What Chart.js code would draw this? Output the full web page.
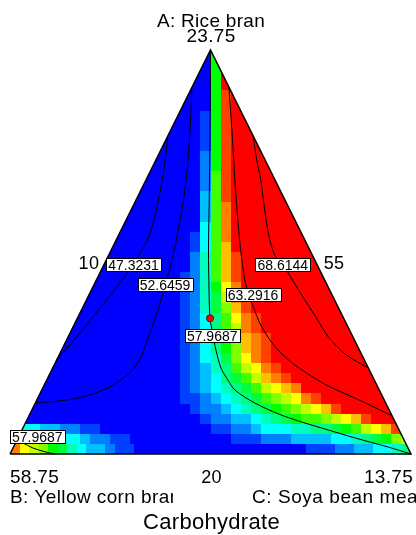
<!DOCTYPE html>
<html><head><meta charset="utf-8">
<script src="https://cdn.jsdelivr.net/npm/chart.js@4/dist/chart.umd.min.js"></script>
<style>html,body{margin:0;padding:0;background:#fff;overflow:hidden}canvas{display:block}</style>
</head><body>
<canvas id="c" width="416" height="535" style="width:416px;height:535px"></canvas>
<script>
// Heatmap cell levels (0 = blue ... G = red), one string per grid row from top to bottom, 40 columns
const cellLevels = [
"000000000000000000008GGGGGGGGGGGGGGGGGGG",
"000000000000000000008GGGGGGGGGGGGGGGGGGG",
"000000000000000000008GGGGGGGGGGGGGGGGGGG",
"000000000000000000008GGGGGGGGGGGGGGGGGGG",
"000000000000000000008FGGGGGGGGGGGGGGGGGG",
"000000000000000000008FGGGGGGGGGGGGGGGGGG",
"000000000000000000018FGGGGGGGGGGGGGGGGGG",
"000000000000000000018FGGGGGGGGGGGGGGGGGG",
"000000000000000000018FGGGGGGGGGGGGGGGGGG",
"000000000000000000018FGGGGGGGGGGGGGGGGGG",
"000000000000000000028FGGGGGGGGGGGGGGGGGG",
"000000000000000000028FGGGGGGGGGGGGGGGGGG",
"000000000000000000029FGGGGGGGGGGGGGGGGGG",
"000000000000000000029FGGGGGGGGGGGGGGGGGG",
"000000000000000000039FGGGGGGGGGGGGGGGGGG",
"000000000000000000039EGGGGGGGGGGGGGGGGGG",
"000000000000000000039EGGGGGGGGGGGGGGGGGG",
"000000000000000000049EGGGGGGGGGGGGGGGGGG",
"000000000000000000149EGGGGGGGGGGGGGGGGGG",
"000000000000000000149DGGGGGGGGGGGGGGGGGG",
"000000000000000000259DFGGGGGGGGGGGGGGGGG",
"000000000000000000259DFGGGGGGGGGGGGGGGGG",
"000000000000000001259DFGGGGGGGGGGGGGGGGG",
"000000000000000001258CEGGGGGGGGGGGGGGGGG",
"000000000000000001257BEFGGGGGGGGGGGGGGGG",
"000000000000000001257ADFGGGGGGGGGGGGGGGG",
"0000000000000000012469CEFGGGGGGGGGGGGGGG",
"0000000000000000012469BEFGGGGGGGGGGGGGGG",
"0000000000000000012458ADEFGGGGGGGGGGGGGG",
"0000000000000000012468ADEFGGGGGGGGGGGGGG",
"0000000000000000012457ACEFGGGGGGGGGGGGGG",
"00000000000000000123569BCEFGGGGGGGGGGGGG",
"000000000000000001234679BDEFGGGGGGGGGGGG",
"0000000000000000012345679BCDEGGGGGGGGGGG",
"00000000000000000112345679ABCEFGGGGGGGGG",
"0000000000000000001223456789ABCDFGGGGGGG",
"0000000000000000000122334567899ABCDFGGGG",
"04433221100000000000112234445566789BCDFG",
"86544443221100000000001112223333445678AB",
"ECBA875433211000000000000000000111223344 56".replace(' ','')
];
const levelChars = "0123456789ABCDEFG";

// Triangle outline (chart units)
const triangleX = [0, 0.5, 1, 0];
const triangleY = [0, 1, 0, 0];

// Contour lines (chart units)
const c47X = [0.3935,0.3871,0.3797,0.3648,0.3449,0.3077,0.2605,0.2109,0.1638,0.1166];
const c47Y = [0.7847,0.7277,0.6782,0.6040,0.5347,0.4703,0.4059,0.3441,0.2871,0.2327];
const c52X = [0.4535,0.4491,0.4392,0.4243,0.4069,0.3871,0.3648,0.3424,0.3226,0.2928,0.2481,0.1985,0.1414,0.0631];
const c52Y = [0.9059,0.8020,0.6782,0.5792,0.4926,0.4183,0.3441,0.2822,0.2327,0.1955,0.1658,0.1460,0.1337,0.1262];
const c57X = [0.5,0.4993,0.4983,0.4968,0.4950,0.4963,0.4988,0.5062,0.5136,0.5261,0.5434,0.5608,0.6104,0.6700,0.7196,0.7767,0.8610,0.9429,1.0];
const c57Y = [1.0,0.8762,0.7525,0.6287,0.5050,0.4059,0.3366,0.2946,0.2574,0.2129,0.1832,0.1584,0.1262,0.0990,0.0817,0.0644,0.0396,0.0173,0];
const c57bX = [0.0174,0.0372,0.0571,0.0844,0.1117];
const c57bY = [0.0347,0.0248,0.0149,0.0062,0];
const c63X = [0.5458,0.5533,0.5608,0.5682,0.5757,0.5856,0.5955,0.6079,0.6253,0.6576,0.6948,0.7320,0.7841,0.8313,0.8759,0.9530];
const c63Y = [0.9084,0.8020,0.6782,0.5792,0.5000,0.4307,0.3936,0.3614,0.3193,0.2698,0.2327,0.2054,0.1733,0.1510,0.1312,0.0941];
const c68X = [0.6064,0.6154,0.6253,0.6352,0.6452,0.6600,0.6799,0.7072,0.7320,0.7643,0.7940,0.8387,0.8936];
const c68Y = [0.7871,0.7277,0.6782,0.6040,0.5421,0.4926,0.4703,0.4257,0.3861,0.3366,0.2896,0.2450,0.2129];

// Contour labels
const labelText = ["47.3231","52.6459","68.6144","63.2916","57.9687","57.9687"];
const labelX = [0.3082,0.3866,0.6804,0.6060,0.5042,0.0682];
const labelY = [0.4698,0.4186,0.4698,0.3948,0.2936,0.0438];

// Design point
const pointX = [0.4988];
const pointY = [0.3359];

// Axis texts
const vertexA = ["A: Rice bran", "23.75"];
const vertexB = ["B: Yellow corn bran", "58.75"];
const vertexC = ["C: Soya bean meal", "13.75"];
const edgeLabels = ["10", "55", "20"];
const axisTitle = "Carbohydrate";

const FONT = '"Liberation Sans", Arial, Helvetica, sans-serif';
const zip = (xs, ys) => xs.map((v, i) => ({x: v, y: ys[i]}));

function triPath(ctx, xs, ys) {
  ctx.beginPath();
  for (let i = 0; i < triangleX.length; i++) {
    const px = xs.getPixelForValue(triangleX[i]), py = ys.getPixelForValue(triangleY[i]);
    if (i === 0) ctx.moveTo(px, py); else ctx.lineTo(px, py);
  }
  ctx.closePath();
}

const heatmapPlugin = {
  id: 'heatmap',
  beforeDatasetsDraw(chart) {
    const ctx = chart.ctx, xs = chart.scales.x, ys = chart.scales.y;
    const nR = cellLevels.length;
    ctx.save();
    triPath(ctx, xs, ys);
    ctx.clip();
    for (let r = 0; r < nR; r++) {
      const row = cellLevels[r];
      const nC = row.length;
      const y0 = Math.round(ys.getPixelForValue(1 - r / nR));
      const y1 = Math.round(ys.getPixelForValue(1 - (r + 1) / nR));
      for (let k = 0; k < nC; k++) {
        const lv = levelChars.indexOf(row[k]);
        const x0 = Math.round(xs.getPixelForValue(k / nC));
        const x1 = Math.round(xs.getPixelForValue((k + 1) / nC));
        ctx.fillStyle = 'hsl(' + (240 - 15 * lv) + ',100%,50%)';
        ctx.fillRect(x0, y0, x1 - x0, y1 - y0);
      }
    }
    ctx.restore();
  }
};

const textPlugin = {
  id: 'texts',
  afterDatasetsDraw(chart) {
    const ctx = chart.ctx, xs = chart.scales.x, ys = chart.scales.y;
    ctx.save();
    // contour labels
    ctx.font = '14px ' + FONT;
    for (let i = 0; i < labelText.length; i++) {
      const cx = xs.getPixelForValue(labelX[i]), cy = ys.getPixelForValue(labelY[i]);
      const w = Math.round(ctx.measureText(labelText[i]).width + 4), h = 13;
      const bx = Math.round(cx - w / 2) + 0.5, by = Math.round(cy - h / 2) + 0.5;
      ctx.fillStyle = '#fff';
      ctx.fillRect(bx, by, w, h);
      ctx.strokeStyle = '#000'; ctx.lineWidth = 1;
      ctx.strokeRect(bx, by, w, h);
      ctx.fillStyle = '#000'; ctx.textAlign = 'center'; ctx.textBaseline = 'alphabetic';
      ctx.fillText(labelText[i], cx, by + h - 1.5);
    }
    const top = ys.getPixelForValue(1), base = ys.getPixelForValue(0);
    const left = xs.getPixelForValue(0), right = xs.getPixelForValue(1), mid = xs.getPixelForValue(0.5);
    ctx.fillStyle = '#000';
    ctx.textBaseline = 'alphabetic';
    ctx.font = '19px ' + FONT;
    ctx.textAlign = 'center';
    ctx.letterSpacing = '0.3px';
    ctx.fillText(vertexA[0], mid + 0.5, top - 23);
    ctx.fillText(vertexA[1], mid + 0.5, top - 8);
    ctx.font = '18px ' + FONT;
    const ey = ys.getPixelForValue(0.475);
    ctx.textAlign = 'right';
    ctx.fillText(edgeLabels[0], xs.getPixelForValue(0.2375) - 6, ey + 7);
    ctx.textAlign = 'left';
    ctx.fillText(edgeLabels[1], xs.getPixelForValue(0.7625) + 8, ey + 7);
    ctx.textAlign = 'center';
    ctx.fillText(edgeLabels[2], mid + 1, base + 29);
    ctx.font = '19px ' + FONT;
    ctx.textAlign = 'left';
    ctx.fillText(vertexB[1], left, base + 29);
    ctx.textAlign = 'right';
    ctx.fillText(vertexC[1], right + 2, base + 29);
    ctx.textAlign = 'left';
    ctx.letterSpacing = '0.4px';
    ctx.save();
    ctx.beginPath(); ctx.rect(0, base + 30, 173, 30); ctx.clip();
    ctx.fillText(vertexB[0], left, base + 49);
    ctx.restore();
    ctx.letterSpacing = '0.55px';
    ctx.fillText(vertexC[0], 252, base + 49);
    ctx.letterSpacing = '0.3px';
    ctx.font = '22px ' + FONT;
    ctx.textAlign = 'center';
    ctx.fillText(axisTitle, mid + 1, base + 75);
    ctx.restore();
  }
};

const lineDs = (xs, ys) => ({
  type: 'scatter', data: zip(xs, ys), showLine: true, borderColor: '#000', borderWidth: 1,
  pointRadius: 0, tension: 0.3, fill: false, clip: false, order: 2
});

new Chart(document.getElementById('c'), {
  type: 'scatter',
  data: {
    datasets: [
      lineDs(c47X, c47Y), lineDs(c52X, c52Y), lineDs(c57X, c57Y), lineDs(c57bX, c57bY),
      lineDs(c63X, c63Y), lineDs(c68X, c68Y),
      { type: 'scatter', data: zip(triangleX, triangleY), showLine: true, borderColor: '#000',
        borderWidth: 1.5, pointRadius: 0, tension: 0, clip: false, order: 1 },
      { type: 'scatter', data: zip(pointX, pointY), pointRadius: 3.5, pointBackgroundColor: '#ff0000',
        pointBorderColor: '#600000', pointBorderWidth: 1, clip: false, order: 0 }
    ]
  },
  options: {
    responsive: false, animation: false,
    layout: { padding: { left: 10, right: 3, top: 50, bottom: 81 } },
    scales: {
      x: { type: 'linear', min: 0, max: 1, display: false },
      y: { type: 'linear', min: 0, max: 1, display: false }
    },
    plugins: { legend: { display: false }, tooltip: { enabled: false } },
    events: []
  },
  plugins: [heatmapPlugin, textPlugin]
});
</script>
</body></html>
